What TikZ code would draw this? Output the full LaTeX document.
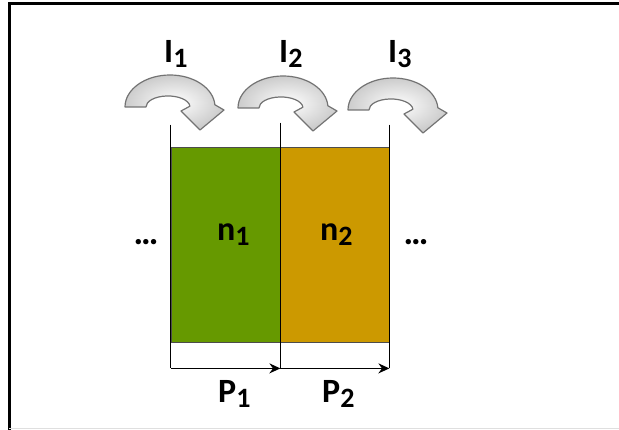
\documentclass[tikz,border=0pt]{standalone}
\usepackage{fontspec}
\setmainfont{Carlito}
\usetikzlibrary{arrows.meta}
\definecolor{cGreen}{RGB}{102,153,0}
\definecolor{cAmber}{RGB}{204,153,0}
\newcommand{\lowidx}[1]{\raisebox{-5pt}{\fontsize{28}{28}\selectfont #1}}
\newcommand{\tightdots}{.\kern-2pt.\kern-2pt.}
\tikzset{
    cell/.style     ={rectangle, draw=black!70, line width=0.8pt, minimum width=109pt, minimum height=195pt, inner sep=0pt},
    wall/.style     ={line width=1.6pt},
    spanarrow/.style={-{Stealth[length=11pt,width=10pt]}, line width=1.6pt},
    lbl/.style      ={inner sep=0pt, anchor=base west, font=\fontsize{34}{36}\selectfont\bfseries},
    dots/.style     ={inner sep=0pt, anchor=base, font=\fontsize{36}{38}\selectfont\bfseries},
    flux/.style     ={draw=black!55, line width=1.2pt, line join=round, inner color=white, outer color=gray!40},
    bendarrow/.pic  ={\path[flux] (-45,0) arc[start angle=180, end angle=356, x radius=45, y radius=32]
                        -- (54,3) -- (30,23) -- (11,4) -- (19.9,-0.8)
                        arc[start angle=356, end angle=180, x radius=22, y radius=11] -- cycle;},
}

\begin{document}
\begin{tikzpicture}[x=1pt, y=-1pt]
    \useasboundingbox (0,0) rectangle (619,430);
    % frame
    \draw[line width=3pt] (619,4) -- (9,4) -- (9,430);
    \draw[gray!25, line width=1pt] (9,428.5) -- (619,428.5);
    % cells
    \node[cell, fill=cGreen] (c1) at (225.5,244.5) {};
    \node[cell, fill=cAmber] (c2) at (334.5,244.5) {};
    \node[lbl] (n1) at (217,241) {n\lowidx{1}};
    \node[lbl] (n2) at (320,241) {n\lowidx{2}};
    \node[dots] (d1) at (146,245) {\tightdots};
    \node[dots] (d2) at (416,245) {\tightdots};
    % walls and widths
    \coordinate (b0) at ([yshift=-26pt]c1.south west);
    \coordinate (b1) at ([yshift=-26pt]c1.south east);
    \coordinate (b2) at ([yshift=-26pt]c2.south east);
    \draw[wall] ([yshift=22pt]c1.north west) -- (b0);
    \draw[wall] ([yshift=24pt]c1.north east) -- (b1);
    \draw[wall] ([yshift=22pt]c2.north east) -- (b2);
    \draw[spanarrow] (b0) -- (b1);
    \draw[spanarrow] (b1) -- (b2);
    \node[lbl] (p1) at (218,403) {P\lowidx{1}};
    \node[lbl] (p2) at (322,403) {P\lowidx{2}};
    % currents
    \pic (f1) at (170,107) {bendarrow};
    \pic (f2) at (283,108) {bendarrow};
    \pic (f3) at (393,110) {bendarrow};
    \node[lbl] (i1) at (164,63) {I\lowidx{1}};
    \node[lbl] (i2) at (279,63) {I\lowidx{2}};
    \node[lbl] (i3) at (388,63) {I\lowidx{3}};
\end{tikzpicture}
\end{document}
